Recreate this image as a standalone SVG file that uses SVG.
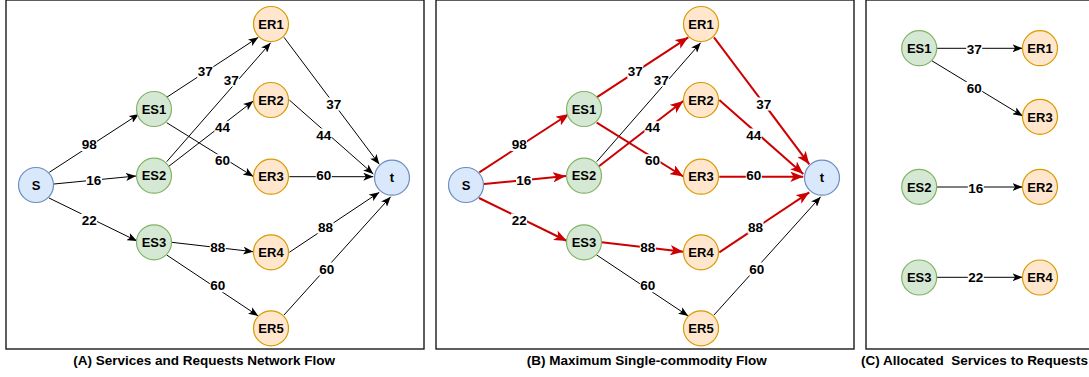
<svg xmlns="http://www.w3.org/2000/svg" width="1089" height="377" viewBox="0 0 1089 377">
<style>
.frame{fill:none;stroke:#1a1a1a;stroke-width:1.4}
.s{fill:#dae8fc;stroke:#6c8ebf;stroke-width:1.2}
.es{fill:#d5e8d4;stroke:#82b366;stroke-width:1.2}
.er{fill:#ffe6cc;stroke:#d79b00;stroke-width:1.2}
.nt{font-family:"Liberation Sans",Arial,sans-serif;font-weight:bold;font-size:13px;text-anchor:middle;fill:#000}
.lt{font-family:"Liberation Sans",Arial,sans-serif;font-weight:bold;font-size:13.5px;text-anchor:middle;fill:#000}
.tt{font-family:"Liberation Sans",Arial,sans-serif;font-weight:bold;font-size:13.5px;text-anchor:middle;fill:#000;white-space:pre}
.bk{fill:none;stroke:#000;stroke-width:1;marker-end:url(#ab)}
.rd{fill:none;stroke:#cc0000;stroke-width:2;marker-end:url(#ar)}
.bg{fill:#fff}
</style>
<defs>
<marker id="ab" markerUnits="userSpaceOnUse" viewBox="0 0 10 8" refX="10" refY="4" markerWidth="10" markerHeight="8" orient="auto">
<path d="M0,0 L10,4 L0,8 L2.5,4 Z" fill="#000"/>
</marker>
<marker id="ar" markerUnits="userSpaceOnUse" viewBox="0 0 10 8" refX="10" refY="4" markerWidth="13" markerHeight="10.4" orient="auto">
<path d="M0,0 L10,4 L0,8 L2.5,4 Z" fill="#cc0000"/>
</marker>
</defs>
<rect x="0" y="0" width="1089" height="377" fill="#fff"/>

<!-- Panel A -->
<g id="panelA">
<rect class="frame" x="6" y="0" width="418" height="349"/>
<g id="edgesA">
<path class="bk" d="M49.3,172.3 L139,114"/>
<path class="bk" d="M54,184 L136,176"/>
<path class="bk" d="M49,198 L137,241"/>
<path class="bk" d="M166.7,97.3 L258.3,37.3"/>
<path class="bk" d="M166.7,161.7 L270.7,42.7"/>
<path class="bk" d="M168.3,166.7 L253.3,101"/>
<path class="bk" d="M166.7,122.7 L253.3,176.5"/>
<path class="bk" d="M171.7,242.3 L253.3,251.7"/>
<path class="bk" d="M166.7,255 L258.3,316"/>
<path class="bk" d="M284,37.3 L379.3,164.3"/>
<path class="bk" d="M289.3,100 L373.3,174"/>
<path class="bk" d="M289.3,176.7 L373.3,176.7"/>
<path class="bk" d="M289.3,252.3 L379.3,192.3"/>
<path class="bk" d="M284,315 L390.7,196.7"/>
<g id="labelsA">
<rect class="bg" x="81" y="138" width="16" height="13"/><text class="lt" x="89.2" y="149">98</text>
<rect class="bg" x="86" y="173.5" width="16" height="13"/><text class="lt" x="93.8" y="184.7">16</text>
<rect class="bg" x="81" y="213.5" width="16" height="13"/><text class="lt" x="89.2" y="224.7">22</text>
<rect class="bg" x="197.3" y="65.2" width="16" height="13"/><text class="lt" x="205.3" y="76.4">37</text>
<rect class="bg" x="223.2" y="73.5" width="16" height="13"/><text class="lt" x="231.2" y="84.7">37</text>
<rect class="bg" x="214.5" y="121.2" width="16" height="13"/><text class="lt" x="222.5" y="132.4">44</text>
<rect class="bg" x="214.5" y="154.2" width="16" height="13"/><text class="lt" x="222.5" y="165.4">60</text>
<rect class="bg" x="209.8" y="240.8" width="16" height="13"/><text class="lt" x="217.8" y="252">88</text>
<rect class="bg" x="209.8" y="279.2" width="16" height="13"/><text class="lt" x="217.8" y="290.4">60</text>
<rect class="bg" x="325.8" y="97.5" width="16" height="13"/><text class="lt" x="333.8" y="108.7">37</text>
<rect class="bg" x="315.8" y="128.5" width="16" height="13"/><text class="lt" x="323.8" y="139.7">44</text>
<rect class="bg" x="315.8" y="168.5" width="16" height="13"/><text class="lt" x="323.8" y="179.7">60</text>
<rect class="bg" x="317.5" y="220.8" width="16" height="13"/><text class="lt" x="325.5" y="232">88</text>
<rect class="bg" x="318.7" y="262.5" width="16" height="13"/><text class="lt" x="326.7" y="273.7">60</text>
</g>
</g>
<g id="A_S"><circle class="s" cx="36" cy="185" r="17.5"/><text class="nt" x="36" y="189.7">S</text></g>
<g id="A_ES1"><circle class="es" cx="154" cy="109" r="17.5"/><text class="nt" x="154" y="113.7">ES1</text></g>
<g id="A_ES2"><circle class="es" cx="154" cy="175.7" r="17.5"/><text class="nt" x="154" y="180.4">ES2</text></g>
<g id="A_ES3"><circle class="es" cx="154" cy="242.3" r="17.5"/><text class="nt" x="154" y="247">ES3</text></g>
<g id="A_ER1"><circle class="er" cx="271" cy="24" r="17.5"/><text class="nt" x="271" y="28.7">ER1</text></g>
<g id="A_ER2"><circle class="er" cx="271" cy="100" r="17.5"/><text class="nt" x="271" y="104.7">ER2</text></g>
<g id="A_ER3"><circle class="er" cx="271" cy="176.7" r="17.5"/><text class="nt" x="271" y="181.4">ER3</text></g>
<g id="A_ER4"><circle class="er" cx="271" cy="252.3" r="17.5"/><text class="nt" x="271" y="257">ER4</text></g>
<g id="A_ER5"><circle class="er" cx="271" cy="328.3" r="17.5"/><text class="nt" x="271" y="333">ER5</text></g>
<g id="A_t"><circle class="s" cx="392" cy="177.7" r="17.5"/><text class="nt" x="392" y="182.4">t</text></g>
<text class="tt" x="204.2" y="365">(A) Services and Requests Network Flow</text>
</g>

<!-- Panel B -->
<g id="panelB" transform="translate(430,0)">
<rect class="frame" x="6" y="0" width="418" height="349"/>
<g id="edgesB">
<path class="rd" d="M49.3,172.3 L139,114"/>
<path class="rd" d="M54,184 L136,176"/>
<path class="rd" d="M49,198 L137,241"/>
<path class="rd" d="M166.7,97.3 L258.3,37.3"/>
<path class="bk" d="M166.7,161.7 L270.7,42.7"/>
<path class="rd" d="M168.3,166.7 L253.3,101"/>
<path class="rd" d="M166.7,122.7 L253.3,176.5"/>
<path class="rd" d="M171.7,242.3 L253.3,251.7"/>
<path class="bk" d="M166.7,255 L258.3,316"/>
<path class="rd" d="M284,37.3 L379.3,164.3"/>
<path class="rd" d="M289.3,100 L373.3,174"/>
<path class="rd" d="M289.3,176.7 L373.3,176.7"/>
<path class="rd" d="M289.3,252.3 L379.3,192.3"/>
<path class="bk" d="M284,315 L390.7,196.7"/>
<g id="labelsB">
<rect class="bg" x="81" y="138" width="16" height="13"/><text class="lt" x="89.2" y="149">98</text>
<rect class="bg" x="86" y="173.5" width="16" height="13"/><text class="lt" x="93.8" y="184.7">16</text>
<rect class="bg" x="81" y="213.5" width="16" height="13"/><text class="lt" x="89.2" y="224.7">22</text>
<rect class="bg" x="197.3" y="65.2" width="16" height="13"/><text class="lt" x="205.3" y="76.4">37</text>
<rect class="bg" x="223.2" y="73.5" width="16" height="13"/><text class="lt" x="231.2" y="84.7">37</text>
<rect class="bg" x="214.5" y="121.2" width="16" height="13"/><text class="lt" x="222.5" y="132.4">44</text>
<rect class="bg" x="214.5" y="154.2" width="16" height="13"/><text class="lt" x="222.5" y="165.4">60</text>
<rect class="bg" x="209.8" y="240.8" width="16" height="13"/><text class="lt" x="217.8" y="252">88</text>
<rect class="bg" x="209.8" y="279.2" width="16" height="13"/><text class="lt" x="217.8" y="290.4">60</text>
<rect class="bg" x="325.8" y="97.5" width="16" height="13"/><text class="lt" x="333.8" y="108.7">37</text>
<rect class="bg" x="315.8" y="128.5" width="16" height="13"/><text class="lt" x="323.8" y="139.7">44</text>
<rect class="bg" x="315.8" y="168.5" width="16" height="13"/><text class="lt" x="323.8" y="179.7">60</text>
<rect class="bg" x="317.5" y="220.8" width="16" height="13"/><text class="lt" x="325.5" y="232">88</text>
<rect class="bg" x="318.7" y="262.5" width="16" height="13"/><text class="lt" x="326.7" y="273.7">60</text>
</g>
</g>
<g id="B_S"><circle class="s" cx="36" cy="185" r="17.5"/><text class="nt" x="36" y="189.7">S</text></g>
<g id="B_ES1"><circle class="es" cx="154" cy="109" r="17.5"/><text class="nt" x="154" y="113.7">ES1</text></g>
<g id="B_ES2"><circle class="es" cx="154" cy="175.7" r="17.5"/><text class="nt" x="154" y="180.4">ES2</text></g>
<g id="B_ES3"><circle class="es" cx="154" cy="242.3" r="17.5"/><text class="nt" x="154" y="247">ES3</text></g>
<g id="B_ER1"><circle class="er" cx="271" cy="24" r="17.5"/><text class="nt" x="271" y="28.7">ER1</text></g>
<g id="B_ER2"><circle class="er" cx="271" cy="100" r="17.5"/><text class="nt" x="271" y="104.7">ER2</text></g>
<g id="B_ER3"><circle class="er" cx="271" cy="176.7" r="17.5"/><text class="nt" x="271" y="181.4">ER3</text></g>
<g id="B_ER4"><circle class="er" cx="271" cy="252.3" r="17.5"/><text class="nt" x="271" y="257">ER4</text></g>
<g id="B_ER5"><circle class="er" cx="271" cy="328.3" r="17.5"/><text class="nt" x="271" y="333">ER5</text></g>
<g id="B_t"><circle class="s" cx="392" cy="177.7" r="17.5"/><text class="nt" x="392" y="182.4">t</text></g>
<text class="tt" x="216.7" y="365">(B) Maximum Single-commodity Flow</text>
</g>

<!-- Panel C -->
<g id="panelC">
<rect class="frame" x="866" y="0" width="240" height="349"/>
<g id="edgesC">
<path class="bk" d="M936.7,48.3 L1022.5,48.3"/>
<path class="bk" d="M931.7,60.7 L1022.7,116"/>
<path class="bk" d="M936.7,187 L1022.5,187"/>
<path class="bk" d="M936.7,277.3 L1022.5,277.3"/>
<rect class="bg" x="966.2" y="42.5" width="16" height="13"/><text class="lt" x="974.2" y="53.7">37</text>
<rect class="bg" x="966.2" y="81.8" width="16" height="13"/><text class="lt" x="974.2" y="93">60</text>
<rect class="bg" x="967.8" y="181.5" width="16" height="13"/><text class="lt" x="975.8" y="192.7">16</text>
<rect class="bg" x="967.8" y="270.8" width="16" height="13"/><text class="lt" x="975.8" y="282">22</text>
</g>
<g id="C_ES1"><circle class="es" cx="919.2" cy="48.2" r="17.5"/><text class="nt" x="919.2" y="52.9">ES1</text></g>
<g id="C_ES2"><circle class="es" cx="919.2" cy="186.8" r="17.5"/><text class="nt" x="919.2" y="191.5">ES2</text></g>
<g id="C_ES3"><circle class="es" cx="919.2" cy="277.5" r="17.5"/><text class="nt" x="919.2" y="282.2">ES3</text></g>
<g id="C_ER1"><circle class="er" cx="1040" cy="48.2" r="17.5"/><text class="nt" x="1040" y="52.9">ER1</text></g>
<g id="C_ER3"><circle class="er" cx="1040" cy="116.8" r="17.5"/><text class="nt" x="1040" y="121.5">ER3</text></g>
<g id="C_ER2"><circle class="er" cx="1040" cy="186.8" r="17.5"/><text class="nt" x="1040" y="191.5">ER2</text></g>
<g id="C_ER4"><circle class="er" cx="1040" cy="277.5" r="17.5"/><text class="nt" x="1040" y="282.2">ER4</text></g>
<text class="tt" x="974.5" y="365" xml:space="preserve">(C) Allocated  Services to Requests</text>
</g>
</svg>
